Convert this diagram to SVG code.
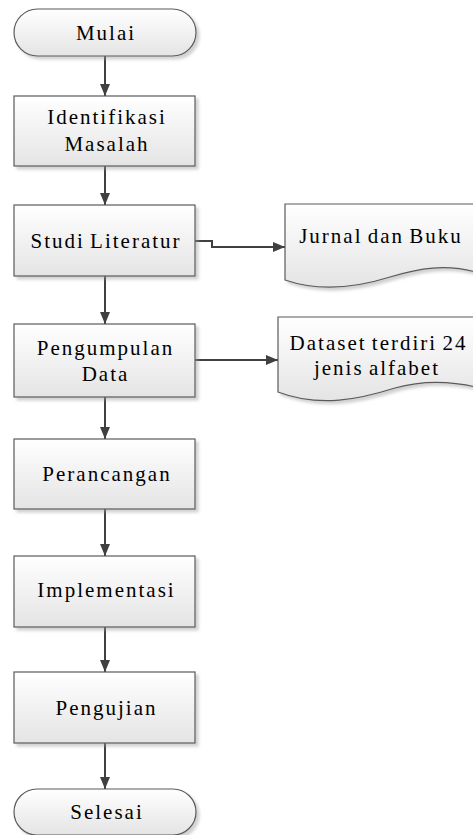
<svg xmlns="http://www.w3.org/2000/svg" width="473" height="835" viewBox="0 0 473 835">
<defs>
<linearGradient id="g" x1="0" y1="0" x2="0" y2="1">
<stop offset="0" stop-color="#ffffff"/>
<stop offset="1" stop-color="#e4e4e4"/>
</linearGradient>
<filter id="sh" x="-10%" y="-10%" width="130%" height="140%">
<feDropShadow dx="3" dy="3" stdDeviation="1.5" flood-color="#9a9a9a" flood-opacity="0.45"/>
</filter>
<marker id="ah" viewBox="0 0 12 10" refX="12" refY="5" markerWidth="12" markerHeight="10" markerUnits="userSpaceOnUse" orient="auto">
<path d="M0,0 L12,5 L0,10 Z" fill="#404040"/>
</marker>
<style>
.shape{fill:url(#g);stroke:#5a5a5a;stroke-width:1.2;filter:url(#sh)}
.c{fill:none;stroke:#404040;stroke-width:2;marker-end:url(#ah)}
.t{font-family:'Liberation Serif','Times New Roman',serif;font-size:21px;fill:#000;text-anchor:middle;letter-spacing:2px}
</style>
</defs>

<g id="connectors">
<path class="c" d="M105,56 V96"/>
<path class="c" d="M105,166 V205"/>
<path class="c" d="M105,276 V324"/>
<path class="c" d="M105,397 V439"/>
<path class="c" d="M105,509 V556"/>
<path class="c" d="M105,627 V672"/>
<path class="c" d="M105,743 V789"/>
<path class="c" d="M195,241 H212 V247 H285"/>
<path class="c" d="M195,360 H278"/>
</g>

<g id="mulai">
<rect class="shape" x="14" y="9" width="182" height="47" rx="23.5"/>
<text class="t" x="106" y="40">Mulai</text>
</g>

<g id="identifikasi">
<rect class="shape" x="14" y="96" width="181" height="70"/>
<text class="t" x="107" y="124">Identifikasi</text>
<text class="t" x="107" y="151">Masalah</text>
</g>

<g id="studi">
<rect class="shape" x="14" y="205" width="181" height="71"/>
<text class="t" x="106" y="248" word-spacing="-2">Studi Literatur</text>
</g>

<g id="jurnal">
<path class="shape" d="M285,204 H476 V272 C445,264 420,268 390,277 C355,288 320,292 285,280 Z"/>
<text class="t" x="381" y="243" word-spacing="-2">Jurnal dan Buku</text>
</g>

<g id="pengumpulan">
<rect class="shape" x="14" y="324" width="181" height="73"/>
<text class="t" x="105.5" y="355">Pengumpulan</text>
<text class="t" x="105.5" y="381">Data</text>
</g>

<g id="dataset">
<path class="shape" d="M278,317 H476 V387 C445,380 420,381 395,388 C360,399 320,408 278,392 Z"/>
<text class="t" x="378.5" y="350" word-spacing="-2">Dataset terdiri 24</text>
<text class="t" x="377" y="375" word-spacing="-2">jenis alfabet</text>
</g>

<g id="perancangan">
<rect class="shape" x="14" y="439" width="181" height="70"/>
<text class="t" x="107" y="481">Perancangan</text>
</g>

<g id="implementasi">
<rect class="shape" x="14" y="556" width="181" height="71"/>
<text class="t" x="106.5" y="597">Implementasi</text>
</g>

<g id="pengujian">
<rect class="shape" x="14" y="672" width="181" height="71"/>
<text class="t" x="106.5" y="715">Pengujian</text>
</g>

<g id="selesai">
<rect class="shape" x="14" y="789" width="182" height="46" rx="23"/>
<text class="t" x="107" y="819">Selesai</text>
</g>
</svg>
